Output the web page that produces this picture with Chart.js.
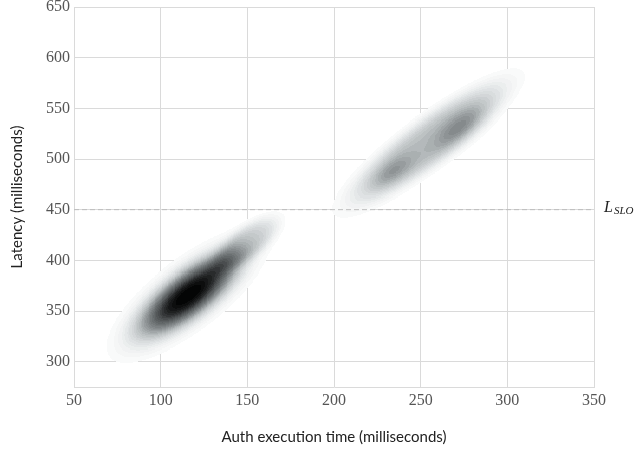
<!DOCTYPE html>
<html>
<head>
<meta charset="utf-8">
<script src="https://cdn.jsdelivr.net/npm/chart.js@4.4.0/dist/chart.umd.min.js"></script>
<style>
  html, body { margin: 0; padding: 0; background: #fff; }
</style>
</head>
<body>
<canvas id="kdeChart" width="640" height="451"></canvas>
<script>
// axis ranges and SLO line
const xRange = [50, 350];
const yRange = [275, 650];
const tickStep = 50;
const sloLatency = 450;

// density bumps: centre, spread, correlation, height, flatness
// 0-1 = fast auth cluster (below SLO), 2-4 = slow auth cluster (above SLO)
const compMeanX = [116, 149, 254.5, 233.5, 272.7];
const compMeanY = [366, 416, 516, 487, 531.6];
const compSdX = [20.3, 13.3, 31.4, 8.75, 10.6];
const compSdY = [28.8, 19.0, 41.7, 12.4, 14.9];
const compRho = [0.761, 0.723, 0.885, 0.656, 0.70];
const compPeak = [1, 0.26, 0.36, 0.17, 0.21];
const compShape = [1.25, 2, 2, 1, 1];

// filled contour levels, evenly spaced in density
const levelCount = 32;

// grey ramp (white -> black) used for the contour bands
const rampStops = [255, 240, 217, 189, 150, 115, 82, 37, 0];

const serif = 'Liberation Serif';
const sans = 'Lato';

function density(x, y) {
    let sum = 0;
    for (let i = 0; i < compMeanX.length; i++) {
        const dx = (x - compMeanX[i]) / compSdX[i];
        const dy = (y - compMeanY[i]) / compSdY[i];
        const r = compRho[i];
        const q = (dx * dx - 2 * r * dx * dy + dy * dy) / (1 - r * r);
        sum += compPeak[i] * Math.exp(-Math.pow(q / 2, compShape[i]));
    }
    return sum;
}

function levelColor(k) {
    const t = Math.min(1, (k + 0.5) / levelCount);
    const pos = t * (rampStops.length - 1);
    const i = Math.min(rampStops.length - 2, Math.floor(pos));
    const v = rampStops[i] + (rampStops[i + 1] - rampStops[i]) * (pos - i);
    // faint slate tint in the middle tones
    const tint = Math.sin(Math.PI * t) * 4;
    const r = Math.round(Math.max(0, v - tint));
    const g = Math.round(Math.min(255, v + tint * 0.3));
    const b = Math.round(Math.min(255, v + tint * 0.8));
    return `rgb(${r},${g},${b})`;
}

/**
 * Filled density contours, drawn as quantised cells through the chart scales
 */
const densityPlugin = {
    id: 'density',
    beforeDatasetsDraw(chart) {
        const { ctx, chartArea, scales: { x, y } } = chart;
        const stepX = 0.5, stepY = 1;
        const nx = Math.round((xRange[1] - xRange[0]) / stepX);
        const ny = Math.round((yRange[1] - yRange[0]) / stepY);

        const grid = new Float64Array(nx * ny);
        let peak = 0;
        for (let j = 0; j < ny; j++) {
            const vy = yRange[0] + (j + 0.5) * stepY;
            for (let i = 0; i < nx; i++) {
                const d = density(xRange[0] + (i + 0.5) * stepX, vy);
                grid[j * nx + i] = d;
                if (d > peak) peak = d;
            }
        }
        const levelOf = d => Math.min(levelCount - 1, Math.floor(d / peak * levelCount));

        ctx.save();
        ctx.beginPath();
        ctx.rect(chartArea.left, chartArea.top, chartArea.width, chartArea.height);
        ctx.clip();
        for (let j = 0; j < ny; j++) {
            const y0 = Math.round(y.getPixelForValue(yRange[0] + (j + 1) * stepY));
            const y1 = Math.round(y.getPixelForValue(yRange[0] + j * stepY));
            if (y1 <= y0) continue;
            let i = 0;
            while (i < nx) {
                const k = levelOf(grid[j * nx + i]);
                let e = i + 1;
                while (e < nx && levelOf(grid[j * nx + e]) === k) e++;
                if (k >= 1) {
                    const x0 = Math.round(x.getPixelForValue(xRange[0] + i * stepX));
                    const x1 = Math.round(x.getPixelForValue(xRange[0] + e * stepX));
                    ctx.fillStyle = levelColor(k);
                    ctx.fillRect(x0, y0, x1 - x0, y1 - y0);
                }
                i = e;
            }
        }
        ctx.restore();
    },
    afterDraw(chart) {
        const { ctx, chartArea, scales: { y } } = chart;
        const py = y.getPixelForValue(sloLatency);
        ctx.save();
        ctx.fillStyle = '#222';
        ctx.textBaseline = 'alphabetic';
        ctx.font = 'italic 16px "Liberation Serif"';
        ctx.fillText('L', chartArea.right + 10, py + 2);
        ctx.font = 'italic 11px "Liberation Serif"';
        ctx.fillText('SLO', chartArea.right + 20, py + 4);
        ctx.restore();
    }
};

new Chart(document.getElementById('kdeChart').getContext('2d'), {
    type: 'scatter',
    data: {
        datasets: [
            {
                label: 'SLO',
                data: [{ x: xRange[0], y: sloLatency }, { x: xRange[1], y: sloLatency }],
                showLine: true,
                borderColor: '#bdbdbd',
                borderWidth: 1,
                borderDash: [5, 3],
                pointRadius: 0
            }
        ]
    },
    options: {
        responsive: false,
        animation: false,
        devicePixelRatio: 1,
        layout: { padding: { top: 7, right: 46, left: 0, bottom: 0 } },
        plugins: {
            legend: { display: false },
            tooltip: { enabled: false }
        },
        scales: {
            x: {
                type: 'linear',
                min: xRange[0],
                max: xRange[1],
                grid: { color: '#dadada', lineWidth: 1, drawTicks: false },
                border: { color: '#dadada' },
                ticks: {
                    stepSize: tickStep,
                    padding: 4,
                    color: '#555',
                    font: { family: serif, size: 16 }
                },
                title: {
                    display: true,
                    text: 'Auth execution time (milliseconds)',
                    color: '#222',
                    font: { family: sans, size: 15 },
                    padding: { top: 0, bottom: 5 }
                },
                afterFit(scale) {
                    scale.height = 64;
                    scale.paddingLeft = 0;
                    scale.paddingRight = 0;
                }
            },
            y: {
                type: 'linear',
                min: yRange[0],
                max: yRange[1],
                grid: { color: '#dadada', lineWidth: 1, drawTicks: false },
                border: { color: '#dadada' },
                ticks: {
                    stepSize: tickStep,
                    includeBounds: false,
                    padding: 4,
                    color: '#555',
                    font: { family: serif, size: 16 }
                },
                title: {
                    display: true,
                    text: 'Latency (milliseconds)',
                    color: '#222',
                    font: { family: sans, size: 15 },
                    padding: { top: 8, bottom: 0 }
                },
                afterFit(scale) {
                    scale.width = 74;
                    scale.paddingTop = 0;
                    scale.paddingBottom = 0;
                }
            }
        }
    },
    plugins: [densityPlugin]
});
</script>
</body>
</html>
